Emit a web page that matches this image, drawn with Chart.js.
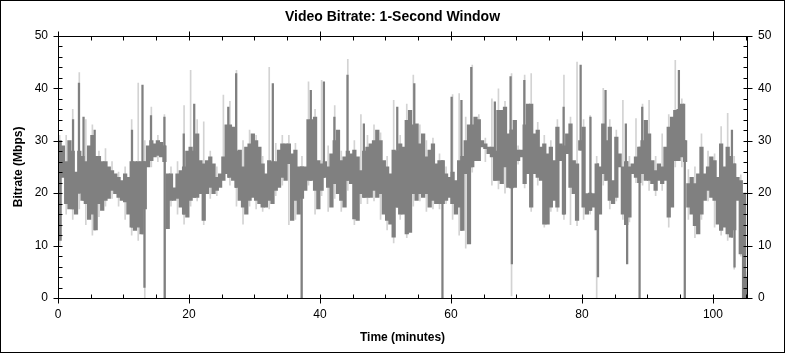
<!DOCTYPE html>
<html>
<head>
<meta charset="utf-8">
<script src="https://cdn.jsdelivr.net/npm/chart.js@4/dist/chart.umd.min.js"></script>
<style>
  html, body { margin: 0; padding: 0; background: #fff; }
  #wrap { width: 785px; height: 353px; }
</style>
</head>
<body>
<div id="wrap"><canvas id="bitrate"></canvas></div>
<script>
// bitrate, Mbps
// main band: high / low per half minute bucket (0, 0.5, 1 ... 105 min)
var bandHi = [
  30,29,26,30,28,24,28,27,26,29,
  31,27,27,26,26,25,24.3,23.7,23,22.4,
  23.7,23,26,26,26,26,26,29,30,29.4,
  30,29.7,29,23.7,23.7,21,23.7,24.3,25,28,
  28.8,28,31.3,26.2,25.6,26.2,26.9,25.6,23,23.7,
  26.9,33,33,32.6,28,28.2,25,28.8,29.4,31.3,
  30,28.8,25.6,23.7,26.2,26,26,28.2,29.4,29.4,
  29.4,27.5,28.2,25,25,25,34,34,34.5,26.2,
  25.6,26,25,27.5,30,32,26.2,26.9,28,27.5,
  28.2,26.9,24.3,28,28.8,29.4,30,32,30,26.2,
  25,23.7,28.2,28,29.4,28.8,33.9,35.8,33,33.2,
  29.4,31.3,26.9,28.2,29.4,25.6,26.2,26.2,23.7,23,
  24,22.4,26.2,27,30,33,33,34.5,34,30,
  29.4,28.8,28.8,28,35.8,35.8,36.4,31.3,32,33.9,
  28.2,28.2,33,37,37,31.3,32,28.8,29.4,27.5,
  28.8,26.2,32.6,29.4,29,31.3,33.2,26.2,25.6,30,
  32.6,19.9,20,19.9,25.6,25,33.2,30,32.6,22.4,
  30.7,27.5,25,26,25,25.6,26.9,28.8,30,33.9,
  31.3,26.2,24.3,25.6,25,28.8,32.6,34.5,35.8,36,
  37,30,21.8,23,21.8,23.7,28.8,23.7,25,26.9,
  26.2,23,29.4,25,28.8,27,25.6,23,22.4,20,
  4
];
var bandLo = [
  11,23,18,17,17,16,20,18.6,18,15,
  16,13,18,16.7,18.6,19,20.5,19.9,19.2,18.6,
  18.3,16,13.5,12.9,13.5,12.2,17,25,26.2,26.9,
  27.2,26.9,26,13.2,18.6,18.6,19,17.3,16,15.4,
  18.6,19.2,19.2,19.9,14.8,19.9,21.1,19.9,20.5,21.1,
  22.4,23.7,23,22.4,21.1,18.6,17.3,16,18.6,19.2,
  18.6,18,17.3,17.3,18.6,18,20.5,21.1,23,22.4,
  25.6,14.8,18.6,16,19,20.5,22.4,22.4,20.5,17,
  20.5,23,21.1,17.3,21.8,19.9,18.6,17.3,22.4,21.8,
  15.1,14.8,19.9,19.2,19.2,19.2,20.5,19.2,19.9,16,
  14.8,14.1,11.6,17.3,16,16,12.2,12.5,19.9,18.6,
  19.9,19.2,19.9,17.3,18.6,18,18,18,18.6,19.2,
  18,16,17.3,12.9,23.7,10.3,25,26.2,26.2,28.8,
  28.5,27.5,26.9,22.4,22.4,21.8,25,21.1,21,21.1,
  26.2,26.9,21.8,23.7,17.3,23.7,23,22.4,14.1,14.1,
  17.3,18.6,17.3,26.2,16,27.5,21.1,19.9,14.8,28.2,
  17.3,16,16.7,17.3,13,16,23.7,22.4,18.6,18,
  19.2,25,16,14,15.4,23.7,23,22,23.7,22.4,
  22.4,21.8,20.5,22.4,21.8,22.4,15.4,17.3,26.2,26.2,
  26.9,26,17.3,16,13.8,12.2,16,18.6,20.5,19.2,
  18.6,14.1,12.9,13.5,12.2,11.6,13,18.6,8.4,0,
  0
];
// single-second needles above the band (minute, Mbps)
var spikeTimes  = [2.3,3.2,3.9,5.6,11.3,12.9,14.2,16.25,19.2,20.8,26.0,27.2,32.8,38.6,40.6,42.2,44.2,46.7,51.8,54.4,60.1,61.6,63.1,66.7,69.1,71.2,77.2,79.8,81.3,83.6,86.7,89.2,94.8,95.6,102.9];
var spikeValues = [34,41,34.5,32,32,40.6,34.8,34.5,31.3,37,36.4,42.8,40.9,39.6,41.2,34.5,42.5,33.2,36.4,40.9,38.3,37.7,44,37.4,42.2,41.5,36.4,44.4,34.5,39.6,33.2,36.4,43.4,37,32];
// dropouts below the band (minute, Mbps)
var dropTimes  = [13.2,16.3,37.2,58.7,69.3,82.45,86.9,88.8,95.7,103.3];
var dropValues = [2,0,0,0,6.5,4,6.5,0,0,5.9];
// light peak trace: high / low per minute (0 ... 105 min)
var lightHi = [
  31,31,36,43,34,33,28,28.5,26,24,
  25,34,41,30,36.4,31,35,25,26,36.7,
  43.4,34,33.6,28,25,38.7,37.5,43.4,30,32,
  31,27,44,29.5,31,31,29.5,27,41.2,36,
  41.5,29,36.7,28,45.5,30,35,31,33,31.5,
  27,37.7,31,37,42.5,33,30,30.5,27.5,25,
  38.8,39,34.5,44.4,35,30.5,38,39.9,37.5,42.8,
  29,42.5,42.8,33.5,31,30,34,42.5,34.5,45,
  34,34.8,27,40,34,32,37.7,27,34.2,37,
  37.7,27,31.3,35,45.3,38,24.5,25,31.3,28,
  27.5,32.7,35.2,27,23.5,5
];
var lightLo = [
  10,16,15,17,14,12,15.5,17.5,19,17.5,
  15,12,11,0,25,26,0,17.5,16,14.1,
  17.5,18.5,14,19,19.5,22.5,21.5,17.5,14.1,17.5,
  17,16.5,17,19.5,21.5,14,15,0,21.5,16,
  19.5,16.5,19,16.5,20.5,14,18,18,18.5,15,
  13,10.5,15,11.5,17.5,18.5,16.5,17,17,18,
  15,12,9.5,24,28,26,21.5,20.8,20,0.4,
  25.5,21,16.5,21.5,13.5,16.5,16.5,15,14,13.8,
  15,16,0,21.5,17,18.5,15,14.5,22,21.5,
  20.5,19.5,20.5,13.5,25,25,15,11.5,15,18.5,
  13.5,12,11,5.5,8,0
];
var xTicks = [0, 20, 40, 60, 80, 100];
var yTicks = [0, 10, 20, 30, 40, 50];
var xMax = 105.2;

var FONT = "'Liberation Sans', Arial, sans-serif";
Chart.defaults.font.family = FONT;
Chart.defaults.color = '#000';

function bucket(t) { return Math.min(bandHi.length - 1, Math.floor(t * 2)); }

function bandBars() {
  var out = [];
  for (var i = 0; i < bandHi.length; i++) out.push({x: i * 0.5 + 0.25, y: [bandLo[i], bandHi[i]]});
  return out;
}
function needleBars() {
  var out = [];
  spikeTimes.forEach(function(t, k) { out.push({x: t, y: [bandLo[bucket(t)], spikeValues[k]]}); });
  dropTimes.forEach(function(t, k) { out.push({x: t, y: [dropValues[k], bandHi[bucket(t)]]}); });
  return out;
}
function lightBars() {
  var out = [];
  for (var m = 0; m < lightHi.length; m++) out.push({x: m + 0.25, y: [lightLo[m], lightHi[m]]});
  return out;
}

// box, tick marks and the outer border
var frame = {
  id: 'frame',
  beforeDraw: function(chart) {
    var c = chart.ctx;
    c.save();
    c.fillStyle = '#fff';
    c.fillRect(0, 0, chart.width, chart.height);
    c.restore();
  },
  afterDraw: function(chart) {
    var c = chart.ctx, a = chart.chartArea, sx = chart.scales.x, sy = chart.scales.y;
    var L = Math.round(a.left) + 0.5, R = Math.round(a.right) + 0.5;
    var T = Math.round(a.top) + 0.5, B = Math.round(a.bottom) + 0.5;
    c.save();
    c.strokeStyle = '#000';
    c.lineWidth = 1;
    c.strokeRect(L, T, R - L, B - T);
    c.beginPath();
    for (var v = 0; v <= xMax; v += 5) {
      var p = Math.round(sx.getPixelForValue(v)) + 0.5;
      var major = xTicks.indexOf(v) >= 0;
      c.moveTo(p, major ? B + 5 : B); c.lineTo(p, B - 4);
      c.moveTo(p, major ? T - 5 : T); c.lineTo(p, T + 4);
    }
    for (var w = 0; w <= 50; w += 2) {
      var q = Math.round(sy.getPixelForValue(w)) + 0.5;
      var maj = yTicks.indexOf(w) >= 0;
      c.moveTo(maj ? L - 5 : L, q); c.lineTo(L + 4, q);
      c.moveTo(maj ? R + 5 : R, q); c.lineTo(R - 4, q);
    }
    c.stroke();
    c.strokeRect(0.5, 0.5, chart.width - 1, chart.height - 1);
    c.restore();
  }
};

new Chart('bitrate', {
  type: 'bar',
  data: {
    datasets: [{
      label: 'Needles',
      data: needleBars(),
      backgroundColor: '#808080',
      barThickness: 1.6,
      grouped: false,
      order: 0
    }, {
      label: 'Bitrate',
      data: bandBars(),
      backgroundColor: '#808080',
      barThickness: 3.6,
      grouped: false,
      order: 1
    }, {
      label: 'Peak',
      data: lightBars(),
      backgroundColor: '#d3d3d3',
      barThickness: 1,
      grouped: false,
      order: 2
    }]
  },
  options: {
    responsive: true,
    maintainAspectRatio: false,
    animation: false,
    events: [],
    layout: {padding: 0},
    plugins: {
      legend: {display: false},
      tooltip: {enabled: false},
      title: {
        display: true,
        text: 'Video Bitrate: 1-Second Window',
        color: '#000',
        font: {size: 14, weight: 'bold', family: FONT},
        padding: {top: 9, bottom: 10}
      }
    },
    scales: {
      x: {
        type: 'linear',
        position: 'bottom',
        offset: false,
        min: 0,
        max: xMax,
        afterFit: function(s) { s.height = 55; },
        grid: {display: false, drawTicks: false, offset: false},
        border: {display: false},
        ticks: {
          stepSize: 20,
          includeBounds: false,
          maxRotation: 0,
          autoSkip: false,
          padding: 9,
          color: '#000',
          font: {size: 12}
        },
        title: {
          display: true,
          text: 'Time (minutes)',
          color: '#000',
          font: {size: 12, weight: 'bold'},
          padding: {top: 0, bottom: 8}
        }
      },
      y: {
        position: 'left',
        min: 0,
        max: 50,
        afterFit: function(s) { s.width = 58; },
        grid: {display: false, drawTicks: false},
        border: {display: false},
        ticks: {stepSize: 10, padding: 10, color: '#000', font: {size: 12}},
        title: {
          display: true,
          text: 'Bitrate (Mbps)',
          color: '#000',
          font: {size: 12, weight: 'bold'},
          padding: {top: 11, bottom: 0}
        }
      },
      y2: {
        position: 'right',
        min: 0,
        max: 50,
        afterFit: function(s) { s.width = 38; },
        grid: {display: false, drawTicks: false},
        border: {display: false},
        ticks: {stepSize: 10, padding: 11, color: '#000', font: {size: 12}}
      }
    }
  },
  plugins: [frame]
});
</script>
</body>
</html>
